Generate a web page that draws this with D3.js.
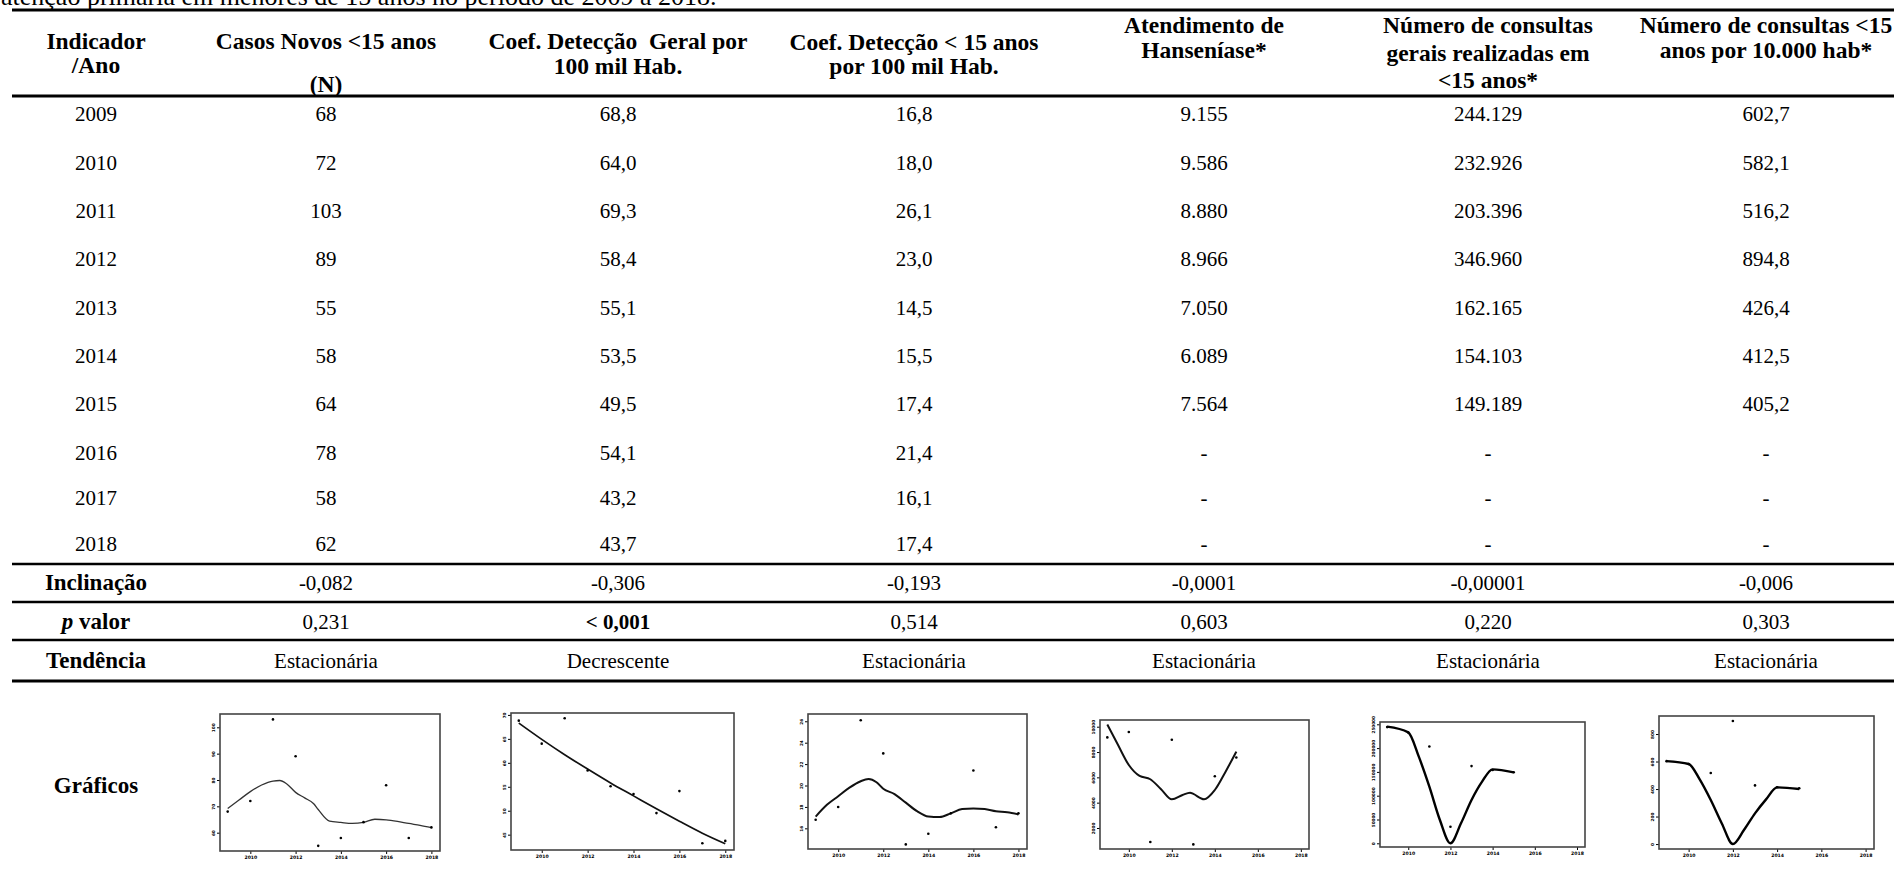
<!DOCTYPE html>
<html><head><meta charset="utf-8">
<script src="https://cdn.jsdelivr.net/npm/d3@7/dist/d3.min.js"></script>
<style>
html,body{margin:0;padding:0;background:#fff;overflow:hidden;}
svg{display:block;}
text{font-family:"Liberation Serif","Times New Roman",serif;fill:#000;}
</style></head><body>
<svg id="chart" width="1894" height="883"></svg>
<script>
// ---------------- DATA ----------------
const captionText = "atenção primária em menores de 15 anos no período de 2009 a 2018.";
const headers = [
  ["Indicador", "/Ano"],
  ["Casos Novos <15 anos", "(N)"],
  ["Coef. Detecção  Geral por", "100 mil Hab."],
  ["Coef. Detecção < 15 anos", "por 100 mil Hab."],
  ["Atendimento de", "Hanseníase*"],
  ["Número de consultas", "gerais realizadas em", "<15 anos*"],
  ["Número de consultas <15", "anos por 10.000 hab*"]
];
const years = [2009, 2010, 2011, 2012, 2013, 2014, 2015, 2016, 2017, 2018];
const casosNovos = [68, 72, 103, 89, 55, 58, 64, 78, 58, 62];
const coefGeral = [68.8, 64.0, 69.3, 58.4, 55.1, 53.5, 49.5, 54.1, 43.2, 43.7];
const coefMenor15 = [16.8, 18.0, 26.1, 23.0, 14.5, 15.5, 17.4, 21.4, 16.1, 17.4];
const atendimento = [9155, 9586, 8880, 8966, 7050, 6089, 7564, null, null, null];
const consultas = [244129, 232926, 203396, 346960, 162165, 154103, 149189, null, null, null];
const consultasPor10mil = [602.7, 582.1, 516.2, 894.8, 426.4, 412.5, 405.2, null, null, null];

const statLabels = ["Inclinação", "valor", "Tendência"];
const inclinacao = ["-0,082", "-0,306", "-0,193", "-0,0001", "-0,00001", "-0,006"];
const pValor = ["0,231", "< 0,001", "0,514", "0,603", "0,220", "0,303"];
const pValorBold = [false, true, false, false, false, false];
const tendencia = ["Estacionária", "Decrescente", "Estacionária", "Estacionária", "Estacionária", "Estacionária"];
const graficosLabel = "Gráficos";

// values as plotted in the small graphs
const atendimentoPlotado = [9155, 9586, 888, 8966, 705, 6089, 7564];
const consultasPlotado = [244129, 232926, 203396, 34696, 162165, 154103, 149189];

// smoothed trend lines: [year, value]
const fitCasos = [[2009,69.2],[2009.5,72.4],[2010,75.6],[2010.5,78.1],[2011,79.6],[2011.3,79.8],[2011.6,78.6],[2012,75.3],[2012.4,73.2],[2012.8,71.0],[2013,68.8],[2013.5,64.4],[2014,63.9],[2014.5,63.5],[2015,63.9],[2015.5,65.1],[2016,64.9],[2016.5,64.3],[2017,63.5],[2017.5,62.8],[2018,61.9]];
const fitCoefGeral = [[2009,68.3],[2010,64.9],[2011,61.7],[2012,58.7],[2013,55.8],[2014,53.1],[2015,50.4],[2016,47.8],[2017,45.3],[2018,43.1]];
const fitCoefMenor15 = [[2009,17.1],[2009.5,18.2],[2010,19.0],[2010.5,19.8],[2011,20.4],[2011.35,20.6],[2011.7,20.3],[2012,19.7],[2012.5,19.2],[2013,18.4],[2013.5,17.6],[2014,17.1],[2014.5,17.05],[2015,17.4],[2015.5,17.8],[2016,17.85],[2016.5,17.8],[2017,17.6],[2017.5,17.5],[2018,17.3]];
const fitAtendimento = [[2009,10180],[2009.5,8550],[2010,6975],[2010.5,6110],[2011,5850],[2011.5,5060],[2012,4270],[2012.5,4610],[2012.85,4790],[2013,4690],[2013.5,4270],[2014,5000],[2014.5,6450],[2015,8030]];
const fitConsultas = [[2009,245000],[2010,233100],[2010.5,182000],[2011,119000],[2011.5,49000],[2012,0],[2012.5,42000],[2013,91000],[2013.5,129500],[2014,155400],[2015,149100]];
const fitConsultasPor10mil = [[2009,603],[2010,582],[2010.5,470],[2011,320],[2011.5,150],[2012,0],[2012.5,102],[2013,223],[2013.5,325],[2014,412],[2015,400]];

const xTickYears = [2010, 2012, 2014, 2016, 2018];
const yTicks1 = [60, 70, 80, 90, 100];
const yTicks2 = [45, 50, 55, 60, 65, 70];
const yTicks3 = [16, 18, 20, 22, 24, 26];
const yTicks4 = [2000, 4000, 6000, 8000, 10000];
const yTicks5 = [0, 50000, 100000, 150000, 200000, 250000];
const yTicks6 = [0, 200, 400, 600, 800];

// ---------------- LAYOUT ----------------
const W = 1894, H = 883;
const colX = [96, 326, 618, 914, 1204, 1488, 1766];
const headerBaselines = [[49, 73], [49, 92], [49, 74], [50, 74], [33, 58], [33, 61, 88], [33, 58]];
const rowBaselines = [121, 170, 218, 266, 315, 363, 411, 460, 505, 551];
const statBaselines = [590, 629, 668];
const ruleYs = [[10, 3], [96, 3], [564, 2.5], [602, 2.5], [640, 2.5], [681, 3]];

const svg = d3.select("#chart");
svg.append("rect").attr("width", W).attr("height", H).attr("fill", "#fff");

const ptBR = d3.formatLocale({decimal: ",", thousands: ".", grouping: [3], currency: ["", ""]});
const f1 = ptBR.format(".1f"), fInt = ptBR.format(",d");
const dash = v => v == null ? "-" : null;

// caption (cut at the top, as in the source)
svg.append("text").attr("x", 1).attr("y", 5).attr("font-size", 26).text(captionText);

// rules
svg.selectAll("line.rule").data(ruleYs).join("line")
  .attr("x1", 12).attr("x2", W).attr("y1", d => d[0]).attr("y2", d => d[0])
  .attr("stroke", "#000").attr("stroke-width", d => d[1]);

// headers
headers.forEach((lines, c) => {
  lines.forEach((t, i) => {
    svg.append("text").attr("x", colX[c]).attr("y", headerBaselines[c][i])
      .attr("text-anchor", "middle").attr("font-size", 23.5).attr("font-weight", "bold")
      .style("white-space", "pre").text(t);
  });
});

// body rows
const columns = [
  years.map(String),
  casosNovos.map(String),
  coefGeral.map(f1),
  coefMenor15.map(f1),
  atendimento.map(v => dash(v) || fInt(v)),
  consultas.map(v => dash(v) || fInt(v)),
  consultasPor10mil.map(v => dash(v) || f1(v))
];
columns.forEach((col, c) => {
  col.forEach((t, r) => {
    svg.append("text").attr("x", colX[c]).attr("y", rowBaselines[r])
      .attr("text-anchor", "middle").attr("font-size", 21).text(t);
  });
});

// stats rows
svg.append("text").attr("x", colX[0]).attr("y", statBaselines[0]).attr("text-anchor", "middle")
  .attr("font-size", 23).attr("font-weight", "bold").text(statLabels[0]);
const pv = svg.append("text").attr("x", colX[0]).attr("y", statBaselines[1]).attr("text-anchor", "middle")
  .attr("font-size", 23).attr("font-weight", "bold");
pv.append("tspan").attr("font-style", "italic").text("p");
pv.append("tspan").text(" " + statLabels[1]);
svg.append("text").attr("x", colX[0]).attr("y", statBaselines[2]).attr("text-anchor", "middle")
  .attr("font-size", 23).attr("font-weight", "bold").text(statLabels[2]);
[inclinacao, pValor, tendencia].forEach((arr, r) => {
  arr.forEach((t, c) => {
    svg.append("text").attr("x", colX[c + 1]).attr("y", statBaselines[r]).attr("text-anchor", "middle")
      .attr("font-size", 21).attr("font-weight", (r === 1 && pValorBold[c]) ? "bold" : "normal").text(t);
  });
});

svg.append("text").attr("x", colX[0]).attr("y", 793).attr("text-anchor", "middle")
  .attr("font-size", 23).attr("font-weight", "bold").text(graficosLabel);

// ---------------- SMALL GRAPHS ----------------
const graphs = [
  {box: [220, 714, 220, 137], yDom: [53.05, 105.05], yTicks: yTicks1, pts: casosNovos, fit: fitCasos, lw: 1.3, lc: "#333"},
  {box: [511, 713, 223, 137], yDom: [41.8, 70.4], yTicks: yTicks2, pts: coefGeral, fit: fitCoefGeral, lw: 1.7, lc: "#111"},
  {box: [808, 714, 219, 135], yDom: [14.07, 26.68], yTicks: yTicks3, pts: coefMenor15, fit: fitCoefMenor15, lw: 2, lc: "#111"},
  {box: [1100, 720, 209, 129], yDom: [341, 10529], yTicks: yTicks4, pts: atendimentoPlotado, fit: fitAtendimento, lw: 2, lc: "#111"},
  {box: [1380, 722, 205, 125], yDom: [-7770, 254830], yTicks: yTicks5, pts: consultasPlotado, fit: fitConsultas, lw: 2.4, lc: "#000"},
  {box: [1659, 716, 215, 133], yDom: [-36, 931], yTicks: yTicks6, pts: consultasPor10mil.filter(v => v != null), fit: fitConsultasPor10mil, lw: 2.4, lc: "#000"}
];

graphs.forEach(g => {
  const [bx, by, bw, bh] = g.box;
  const gg = svg.append("g").attr("transform", `translate(${bx},${by})`);
  const x = d3.scaleLinear().domain([2008.66, 2018.38]).range([0, bw]);
  const y = d3.scaleLinear().domain(g.yDom).range([bh, 0]);

  const xa = gg.append("g").attr("transform", `translate(0,${bh})`)
    .call(d3.axisBottom(x).tickValues(xTickYears).tickSize(3).tickPadding(1.5).tickFormat(d3.format("d")));
  xa.select(".domain").remove();
  xa.selectAll("line").attr("stroke", "#000").attr("stroke-width", 1);
  xa.selectAll("text").attr("font-size", 4.6).attr("font-weight", "bold")
    .style("font-family", "'DejaVu Sans',sans-serif");

  const ya = gg.append("g")
    .call(d3.axisLeft(y).tickValues(g.yTicks).tickSize(3).tickFormat(d3.format("d")));
  ya.select(".domain").remove();
  ya.selectAll("line").attr("stroke", "#000").attr("stroke-width", 1);
  ya.selectAll("text").attr("transform", "rotate(-90)").attr("x", 0).attr("y", -5.5).attr("dy", 0)
    .attr("text-anchor", "middle").attr("font-size", 4.2).attr("font-weight", "bold")
    .style("font-family", "'DejaVu Sans',sans-serif");

  gg.append("rect").attr("width", bw).attr("height", bh)
    .attr("fill", "none").attr("stroke", "#444").attr("stroke-width", 1.6);

  const line = d3.line().x(d => x(d[0])).y(d => y(d[1])).curve(d3.curveMonotoneX);
  gg.append("path").datum(g.fit).attr("d", line).attr("fill", "none")
    .attr("stroke", g.lc).attr("stroke-width", g.lw).attr("stroke-linejoin", "round");

  gg.selectAll("circle").data(g.pts.map((v, i) => [years[i], v])).join("circle")
    .attr("cx", d => x(d[0])).attr("cy", d => y(d[1])).attr("r", 1.3).attr("fill", "#000");
});
</script>
</body></html>
